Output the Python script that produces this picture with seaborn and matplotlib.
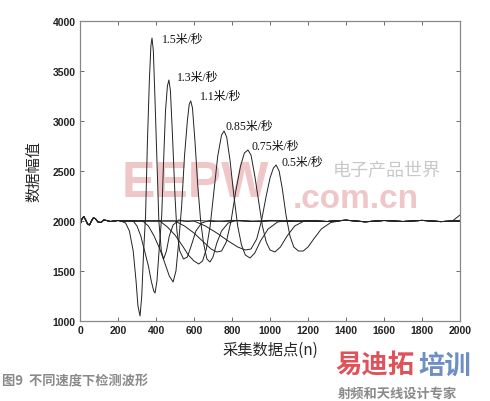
import matplotlib
matplotlib.use("Agg")
import matplotlib.pyplot as plt
import seaborn as sns
import pandas as pd

# shared noisy start segment
start_x = [0, 10, 20, 30, 40, 50, 60, 70, 80, 95, 110, 125, 140, 160, 180, 200]
start_y = [1960, 2020, 2045, 2010, 1970, 1960, 2000, 2030, 2025, 1990, 1985, 2010, 2005, 1995, 2000, 2005]

# tail baseline samples (small noise)
tail_x = [1300, 1400, 1500, 1600, 1700, 1800, 1900, 1960, 2000]
tail_y = [1995, 2008, 1992, 2005, 1995, 2006, 1994, 2000, 1998]

speeds = ["1.5", "1.3", "1.1", "0.85", "0.75", "0.5"]

x15 = [220, 240, 260, 280, 295, 305, 316, 325, 335, 345, 355, 365, 373, 379, 386, 395, 405, 415, 428, 440, 455, 470, 490, 520, 560, 620, 700, 800, 900, 1000, 1100, 1200]
y15 = [1995, 1980, 1900, 1700, 1400, 1150, 1050, 1250, 1700, 2050, 2800, 3400, 3750, 3830, 3700, 3200, 2600, 2000, 1700, 1620, 1700, 1850, 1960, 2010, 1995, 2005, 1995, 2006, 1996, 2004, 1995, 2003]

x13 = [220, 280, 300, 320, 340, 360, 375, 388, 395, 405, 418, 430, 440, 450, 460, 468, 476, 488, 500, 510, 525, 545, 565, 585, 610, 640, 680, 760, 850, 950, 1050, 1150, 1250]
y13 = [2002, 2000, 1950, 1850, 1700, 1550, 1400, 1300, 1280, 1400, 1750, 2050, 2600, 3100, 3350, 3410, 3300, 2800, 2250, 1900, 1700, 1620, 1640, 1750, 1900, 1980, 2005, 1995, 2005, 1994, 2004, 1996, 2002]

x11 = [220, 330, 360, 390, 420, 450, 470, 490, 505, 520, 535, 550, 565, 575, 583, 592, 605, 620, 635, 650, 668, 684, 700, 720, 745, 780, 820, 900, 1000, 1100, 1200]
y11 = [1998, 2000, 1950, 1850, 1720, 1560, 1450, 1390, 1500, 1800, 2150, 2650, 3000, 3170, 3200, 3130, 2800, 2350, 2000, 1780, 1620, 1590, 1640, 1780, 1900, 1980, 2005, 1995, 2006, 1995, 2004]

x085 = [220, 420, 460, 500, 540, 570, 600, 625, 645, 665, 685, 705, 725, 745, 758, 772, 790, 810, 830, 850, 870, 895, 920, 950, 990, 1040, 1100, 1200]
y085 = [2003, 2000, 1940, 1860, 1750, 1660, 1600, 1570, 1600, 1720, 1950, 2300, 2650, 2860, 2900, 2840, 2600, 2250, 1950, 1760, 1660, 1630, 1680, 1800, 1920, 1990, 2005, 1996]

x075 = [220, 500, 550, 600, 650, 690, 720, 745, 770, 795, 820, 845, 865, 884, 900, 920, 940, 960, 980, 1000, 1026, 1055, 1090, 1130, 1180, 1240]
y075 = [1997, 2000, 1950, 1880, 1790, 1720, 1690, 1700, 1790, 2000, 2300, 2550, 2680, 2710, 2660, 2450, 2200, 1950, 1790, 1710, 1690, 1740, 1850, 1950, 2000, 2004]

x05 = [220, 600, 660, 720, 780, 830, 870, 900, 930, 955, 980, 1000, 1018, 1032, 1048, 1065, 1085, 1105, 1125, 1150, 1175, 1200, 1230, 1270, 1320, 1380]
y05 = [2004, 2000, 1950, 1880, 1800, 1740, 1710, 1720, 1820, 2000, 2250, 2430, 2530, 2560, 2500, 2320, 2050, 1850, 1740, 1700, 1700, 1740, 1820, 1920, 1985, 2005]

curve_x = [x15, x13, x11, x085, x075, x05]
curve_y = [y15, y13, y11, y085, y075, y05]

# end-of-record values (one trace rises at the end)
end_y = [1998, 2002, 1996, 2004, 2000, 2060]

label_x = [432, 511, 632, 768, 905, 1063]
label_y = [3820, 3440, 3250, 2950, 2750, 2590]

rows = []
for i, s in enumerate(speeds):
    xs = start_x + curve_x[i] + tail_x
    ys = start_y + curve_y[i] + tail_y[:-1] + [end_y[i]]
    for a, b in zip(xs, ys):
        rows.append({"speed": s, "n": a, "v": b})
df = pd.DataFrame(rows)

sns.set_style("ticks")
plt.rcParams["font.family"] = ["Liberation Sans", "Noto Sans CJK SC", "DejaVu Sans"]

fig = plt.figure(figsize=(4.9, 4.02), dpi=100)
ax = fig.add_axes([80 / 490, 1 - 322 / 402, 380 / 490, 300 / 402])

# watermark (behind)
ax.text(0.11, 0.46, "EEPW", transform=ax.transAxes, fontsize=36, fontweight="bold",
        color="#eab0b3", alpha=0.7, va="center", ha="left", zorder=0)
ax.text(0.665, 0.505, "电子产品世界", transform=ax.transAxes, fontsize=13,
        color="#bbbbbb", alpha=0.8, va="center", ha="left", zorder=0,
        family=["Noto Sans CJK SC"])
ax.text(0.56, 0.41, ".com.cn", transform=ax.transAxes, fontsize=24, fontweight="bold",
        color="#eab0b3", alpha=0.7, va="center", ha="left", zorder=0)

sns.lineplot(data=df, x="n", y="v", hue="speed", palette=["#222222"] * 6,
             estimator=None, sort=False, linewidth=0.7, legend=False, ax=ax, zorder=2)

for i, s in enumerate(speeds):
    ax.text(label_x[i], label_y[i], s + "米/秒", fontsize=8.5, va="center", ha="left",
            family=["Liberation Serif", "Noto Sans CJK SC"], color="#111111")

ax.set_xlim(0, 2000)
ax.set_ylim(1000, 4000)
ax.set_xticks(range(0, 2001, 200))
ax.set_yticks(range(1000, 4001, 500))
ax.tick_params(direction="in", length=3, width=0.6, color="#555555",
               labelsize=7.5, top=True, right=True, pad=3)
for lab in ax.get_xticklabels() + ax.get_yticklabels():
    lab.set_fontweight("bold")
    lab.set_color("#222222")
for sp in ax.spines.values():
    sp.set_visible(True)
    sp.set_color("#888888")
    sp.set_linewidth(0.9)

ax.set_xlabel("采集数据点(n)", fontsize=11, family=["Noto Sans CJK SC"], labelpad=4)
ax.set_ylabel("数据幅值", fontsize=11, family=["Noto Sans CJK SC"], labelpad=8)

fig.text(2 / 490, 1 - 381 / 402, "图9  不同速度下检测波形", fontsize=9.5, fontweight="bold",
         color="#8a8a8a", va="center", ha="left", family=["Noto Sans CJK SC"])
fig.text(335 / 490, 1 - 366 / 402, "易迪拓", fontsize=19, fontweight="bold",
         color="#e0525a", va="center", ha="left", family=["Noto Sans CJK SC"])
fig.text(418 / 490, 1 - 366 / 402, "培训", fontsize=19, fontweight="bold",
         color="#6d8fc4", va="center", ha="left", family=["Noto Sans CJK SC"])
fig.text(338 / 490, 1 - 393 / 402, "射频和天线设计专家", fontsize=9.5, fontweight="bold",
         color="#8a8a8a", va="center", ha="left", family=["Noto Sans CJK SC"])

fig.savefig("out.png", dpi=100)
